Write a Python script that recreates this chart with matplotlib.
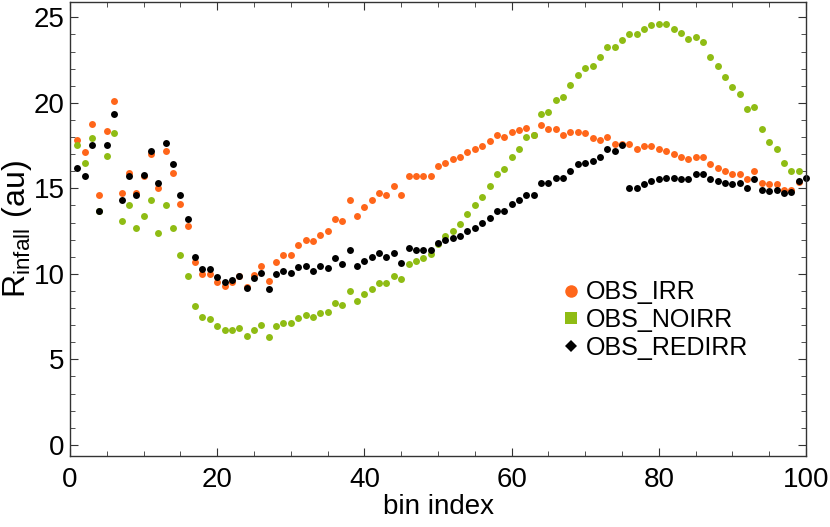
import matplotlib
matplotlib.use("Agg")
import matplotlib.pyplot as plt
from matplotlib.lines import Line2D
from matplotlib.ticker import MultipleLocator
from matplotlib import font_manager

plt.rcParams['font.family'] = ['Liberation Sans', 'DejaVu Sans']
names = {f.name for f in font_manager.fontManager.ttflist}
narrow = 'Liberation Sans Narrow' if 'Liberation Sans Narrow' in names else 'Liberation Sans'
plt.rcParams['mathtext.fontset'] = 'custom'
plt.rcParams['mathtext.rm'] = narrow

irr = [17.82, 17.15, 18.75, 14.60, 18.34, 20.13, 14.72, 15.90, 14.72, 15.71,
       17.04, 15.01, 17.21, 15.90, 14.11, 12.81, 10.68, 9.98, 10.00, 9.55,
       9.32, 9.51, 9.85, 9.25, 9.96, 10.49, 9.61, 10.68, 11.09, 11.09,
       11.70, 11.99, 11.91, 12.28, 12.51, 13.22, 13.10, 14.31, 13.41, 13.94,
       14.31, 14.72, 14.60, 15.13, 14.60, 15.71, 15.71, 15.71, 15.71, 16.32,
       16.51, 16.73, 16.82, 17.13, 17.31, 17.50, 17.80, 18.15, 18.03, 18.32,
       18.44, 18.52, 18.15, 18.73, 18.46, 18.46, 18.15, 18.32, 18.32, 18.23,
       17.93, 17.82, 18.03, 17.62, 17.62, 17.62, 17.33, 17.45, 17.45, 17.33,
       17.21, 17.02, 16.84, 16.73, 16.84, 16.84, 16.43, 16.22, 16.02, 15.83,
       15.83, 15.54, 16.02, 15.32, 15.24, 15.24, 14.91, 14.91, 15.40]

noirr = [17.53, 16.51, 17.93, 13.70, 16.92, 18.23, 13.12, 14.00, 12.71, 13.41,
         14.31, 12.40, 14.00, 12.71, 11.09, 9.88, 8.11, 7.49, 7.35, 6.96,
         6.69, 6.69, 6.82, 6.36, 6.73, 7.00, 6.32, 6.94, 7.13, 7.13,
         7.43, 7.58, 7.47, 7.72, 7.80, 8.28, 8.20, 8.97, 8.44, 8.81,
         9.10, 9.47, 9.47, 9.90, 9.71, 10.58, 10.78, 10.90, 11.19, 11.75,
         12.22, 12.51, 12.92, 13.51, 14.00, 14.52, 15.13, 15.83, 16.14, 16.84,
         17.33, 18.03, 18.15, 19.34, 19.46, 20.14, 20.35, 21.05, 21.66, 22.03,
         22.15, 22.67, 23.26, 23.26, 23.67, 24.04, 24.04, 24.35, 24.56, 24.64,
         24.64, 24.35, 24.06, 23.74, 23.86, 23.57, 22.67, 22.15, 21.54, 20.95,
         20.54, 19.65, 19.75, 18.46, 17.74, 17.33, 16.51, 16.02, 16.02]

redirr = [16.22, 15.71, 17.53, 13.70, 17.53, 19.36, 14.31, 15.71, 14.60, 15.81,
          17.21, 15.30, 17.64, 16.43, 14.60, 13.22, 11.01, 10.31, 10.31, 9.82,
          9.51, 9.63, 9.86, 9.20, 9.77, 10.08, 9.14, 10.02, 10.19, 10.08,
          10.39, 10.49, 10.19, 10.49, 10.37, 10.92, 10.60, 11.40, 10.49, 10.78,
          11.01, 11.21, 11.01, 11.21, 10.66, 11.50, 11.38, 11.38, 11.38, 11.79,
          11.99, 12.11, 12.22, 12.51, 12.69, 12.98, 13.29, 13.70, 13.70, 14.11,
          14.31, 14.60, 14.60, 15.30, 15.30, 15.61, 15.61, 16.02, 16.43, 16.51,
          16.63, 16.84, 17.33, 17.21, 17.52, 15.01, 15.01, 15.24, 15.44, 15.54,
          15.59, 15.59, 15.54, 15.54, 15.83, 15.83, 15.54, 15.42, 15.30, 15.24,
          15.30, 15.01, 15.54, 14.89, 14.83, 14.89, 14.72, 14.81, 15.42, 15.59]

bins_irr = list(range(1, len(irr) + 1))
bins_noirr = list(range(1, len(noirr) + 1))
bins_redirr = list(range(1, len(redirr) + 1))

labels = ["OBS_IRR", "OBS_NOIRR", "OBS_REDIRR"]
c_irr = '#ff661a'
c_noirr = '#8fbc14'
c_red = '#000000'

fig = plt.figure(figsize=(8.3, 5.27), dpi=100)
ax = fig.add_axes([70 / 830, 1 - 456 / 527, (806 - 70) / 830, (456 - 2) / 527])

ms = 5.0
ax.plot(bins_irr, irr, 'o', color=c_irr, ms=ms, mew=0, clip_on=False)
ax.plot(bins_noirr, noirr, 'o', color=c_noirr, ms=ms, mew=0, clip_on=False)
ax.plot(bins_redirr, redirr, 'o', color=c_red, ms=ms, mew=0, clip_on=False)

ax.set_xlim(0, 100)
ax.set_ylim(-0.65, 25.9)
ax.xaxis.set_major_locator(MultipleLocator(20))
ax.xaxis.set_minor_locator(MultipleLocator(5))
ax.yaxis.set_major_locator(MultipleLocator(5))
ax.yaxis.set_minor_locator(MultipleLocator(1))
ax.tick_params(which='both', direction='in', top=True, right=True, labelsize=20, color='#333333')
ax.tick_params(which='major', length=6, width=0.8)
ax.tick_params(which='minor', length=3.5, width=0.6)
ax.tick_params(axis='x', pad=8)
ax.tick_params(axis='y', pad=4)
for s in ax.spines.values():
    s.set_color('#333333')
    s.set_linewidth(1.0)

ax.set_xlabel('bin index', fontsize=20, labelpad=1)
ax.set_ylabel(r'$\mathrm{R}_{\mathrm{infall}}\ \mathrm{(au)}$', fontsize=23)
ax.yaxis.set_label_coords(-36 / 736, 0.5)

handles = [
    Line2D([], [], ls='none', marker='o', color=c_irr, ms=9, mew=0),
    Line2D([], [], ls='none', marker='s', color=c_noirr, ms=8, mew=0),
    Line2D([], [], ls='none', marker='D', color=c_red, ms=6.5, mew=0),
]
fig.legend(handles, labels, loc='center left', bbox_to_anchor=(563 / 830, 1 - 320 / 527),
           frameon=False, fontsize=18, handlelength=0.6, handletextpad=0.3, labelspacing=0.15,
           borderaxespad=0, borderpad=0)

fig.savefig('out.png', dpi=100)
